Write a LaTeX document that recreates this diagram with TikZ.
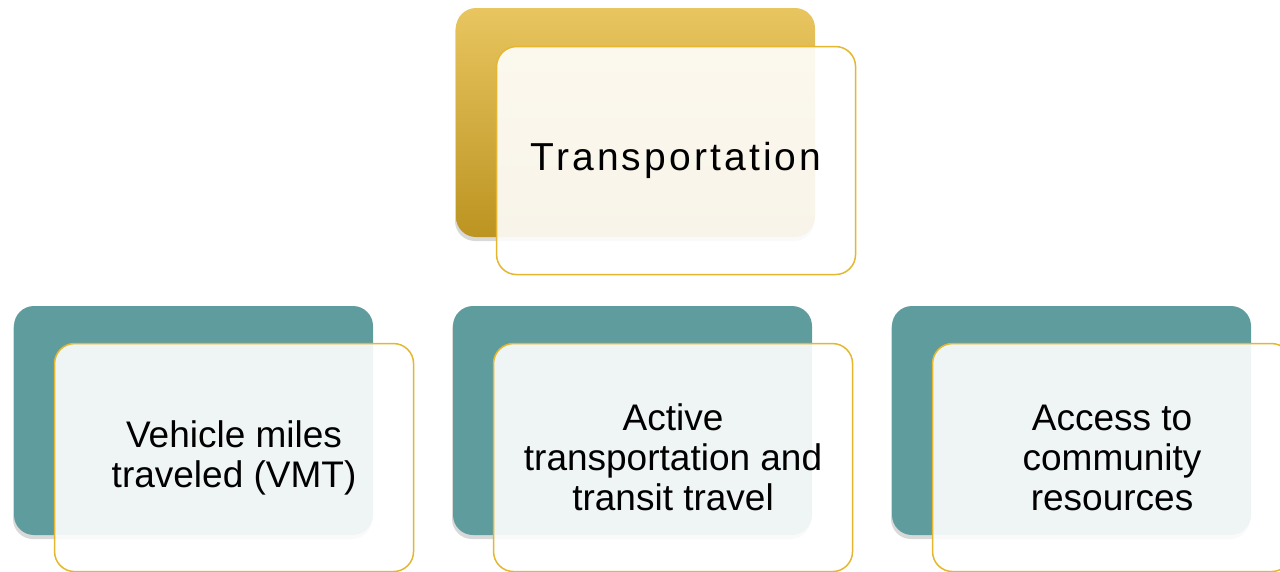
\documentclass[tikz,border=0pt]{standalone}
\usepackage{fontspec}
\setmainfont{Liberation Sans}
\newfontfamily\titlefont[LetterSpace=8]{Liberation Sans}
\usetikzlibrary{positioning,shadows}
\definecolor{goldtop}{HTML}{E9C560}
\definecolor{goldbot}{HTML}{BB9421}
\definecolor{tealfill}{HTML}{5F9C9E}
\definecolor{goldline}{HTML}{E5B72E}

\begin{document}
\begin{tikzpicture}[x=1pt,y=-1pt,
     backbox/.style={rectangle,rounded corners=20pt,minimum width=359pt,
        minimum height=229pt,inner sep=0pt,
        drop shadow={opacity=0.3,shadow xshift=-1pt,shadow yshift=-4pt}},
     goldbox/.style={backbox,top color=goldtop,bottom color=goldbot},
     tealbox/.style={backbox,fill=tealfill},
     frontbox/.style={rectangle,rounded corners=20pt,minimum width=359pt,
        minimum height=228pt,inner sep=0pt,draw=goldline,line width=1.5pt,
        fill=white,fill opacity=0.9,text opacity=1,align=center,
        font=\fontsize{37}{40}\selectfont}
     ]
   \useasboundingbox (0,0) rectangle (1280,571);
   \clip (0,0) rectangle (1280,571);

   % top card
   \node[goldbox] (transback) at (635.5,122.5) {};
   \node[frontbox,anchor=north west] (trans)
      at ([shift={(40,38)}]transback.north west)
      {\titlefont\fontsize{39}{40}\selectfont Transportation};

   % three cards below, each a teal card with a light card over it
   \foreach \n/\x/\txt in {vmt/193.5/{Vehicle miles\\traveled (VMT)},
          active/632.5/{Active\\transportation and\\transit travel},
          access/1071.5/{Access to\\community\\resources}}
   {
     \node[tealbox] (\n back) at (\x,420.5) {};
     \node[frontbox,anchor=north west] (\n)
        at ([shift={(40,37)}]\n back.north west) {\txt};
   }
\end{tikzpicture}
\end{document}
